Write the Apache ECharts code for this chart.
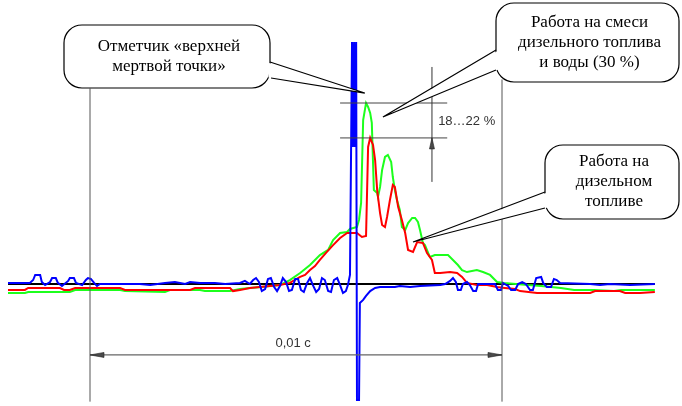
<!DOCTYPE html>
<html>
<head>
<meta charset="utf-8">
<script src="https://cdn.jsdelivr.net/npm/echarts@6/dist/echarts.min.js"></script>
<style>
  html, body { margin: 0; padding: 0; background: #fff; }
  #chart { width: 682px; height: 406px; }
</style>
</head>
<body>
<div id="chart"></div>
<script>
// Time in ms (0 = first reference mark, 10 ms = 0,01 s later);
// signal in % of the peak reached on the diesel/water mixture.

// Work on diesel fuel
const dieselTrace = [
  [-1.99,-3.3],[-1.58,-3.3],[-1.50,-2.2],[-0.73,-2.2],[-0.63,-3.3],[-0.49,-3.3],[-0.36,-2.2],
  [0.73,-2.2],[0.85,-3.3],[1.70,-3.3],[2.43,-3.3],[2.55,-2.2],[3.40,-2.2],[3.47,-3.9],[3.64,-3.3],
  [3.88,-2.2],[4.37,-1.1],[4.61,-0.6],[4.85,0.6],[5.10,3.9],[5.22,5.0],[5.34,7.7],[5.46,9.9],
  [5.58,13.3],[5.75,17.7],[5.90,21.5],[6.07,25.4],[6.24,28.2],[6.48,28.2],[6.60,26.0],[6.70,26.5],
  [6.75,75.7],[6.80,80.7],[6.87,76.8],[6.92,68.5],[6.97,51.9],[7.04,39.2],[7.09,32.6],[7.16,31.5],
  [7.21,37.0],[7.28,46.4],[7.35,54.7],[7.40,53.6],[7.48,42.5],[7.57,35.4],[7.65,28.2],[7.72,18.8],
  [7.84,17.7],[7.94,23.2],[8.08,22.7],[8.18,17.1],[8.30,13.3],[8.37,6.1],[8.50,6.1],[8.74,6.6],
  [8.91,6.1],[9.03,3.9],[9.15,0.6],[9.39,-0.6],[9.64,-0.6],[9.88,-1.7],[10.07,-2.2],[10.32,-2.8],
  [10.44,-3.9],[10.85,-5.0],[12.14,-5.0],[12.26,-3.9],[12.86,-3.9],[12.99,-5.0],[13.35,-5.0],[13.71,-4.4]
];

// Work on diesel fuel + water (30 %)
const mixTrace = [
  [-1.99,-5.0],[-1.58,-5.0],[-1.50,-4.4],[-0.49,-4.4],[-0.36,-3.3],[0.73,-3.3],[0.85,-3.9],
  [1.82,-4.4],[1.94,-3.3],[2.67,-3.3],[2.79,-3.9],[3.40,-3.9],[3.64,-2.8],[3.88,-2.2],[4.17,-1.7],
  [4.37,-1.1],[4.61,-0.6],[4.85,2.2],[5.10,6.1],[5.34,10.5],[5.58,16.0],[5.78,18.8],[5.90,24.3],
  [6.07,28.2],[6.24,28.7],[6.31,30.4],[6.48,31.5],[6.53,35.4],[6.58,44.8],[6.63,90.6],[6.70,100],
  [6.75,97.8],[6.80,94.5],[6.84,89.0],[6.89,51.9],[6.97,50.3],[6.99,48.1],[7.04,53.6],[7.09,63.0],
  [7.16,70.2],[7.23,71.3],[7.31,67.4],[7.35,59.1],[7.40,51.9],[7.45,46.4],[7.52,40.9],[7.57,31.5],
  [7.65,29.8],[7.72,33.7],[7.82,36.5],[7.89,36.5],[7.96,34.3],[8.01,29.8],[8.08,22.7],[8.13,21.5],
  [8.25,14.9],[8.37,16.0],[8.69,16.0],[8.81,13.3],[8.93,10.5],[9.03,7.7],[9.15,6.6],[9.39,7.7],
  [9.54,6.6],[9.71,5.0],[9.88,1.1],[10.05,0.6],[10.63,-0.6],[10.95,-1.1],[11.43,-2.2],[11.75,-3.3],
  [12.23,-3.3],[12.72,-3.9],[12.89,-3.3],[13.71,-3.3]
];

// Top dead centre marker channel
const tdcTrace = [
  [-1.99,0.6],[-1.46,0.6],[-1.38,2.2],[-1.33,5.0],[-1.21,5.0],[-1.17,1.1],[-1.09,-0.6],[-0.97,1.1],
  [-0.92,3.3],[-0.83,3.3],[-0.78,0.6],[-0.68,-1.1],[-0.53,1.7],[-0.49,3.3],[-0.39,3.3],[-0.34,0.6],
  [-0.19,-0.6],[-0.10,2.2],[-0.05,3.3],[0.02,2.8],[0.10,0.6],[0.17,-1.1],[0.24,0],[1.21,0],
  [1.46,-0.6],[1.82,0.6],[2.06,1.1],[2.31,0],[2.43,1.1],[2.67,0.6],[3.03,0.6],[3.28,0],[3.64,0.6],
  [3.76,1.7],[3.88,0],[3.96,2.2],[4.03,3.3],[4.10,1.1],[4.17,-3.9],[4.25,-2.8],[4.32,2.8],[4.39,3.3],
  [4.47,-1.7],[4.54,-3.9],[4.61,-1.1],[4.68,3.3],[4.76,1.1],[4.83,-3.9],[4.90,-3.3],[4.98,2.8],
  [5.05,2.8],[5.12,-3.3],[5.19,-4.4],[5.27,0.6],[5.34,3.3],[5.41,-0.6],[5.49,-4.4],[5.56,-2.8],
  [5.63,3.3],[5.70,2.2],[5.78,-3.9],[5.85,-4.4],[5.92,2.2],[6.00,3.3],[6.07,-0.6],[6.14,-5.0],
  [6.21,-3.9],[6.26,-0.6],[6.31,5.0],[6.36,133.7],[6.38,75.7],[6.41,133.7],[6.43,75.7],[6.46,133.7],
  [6.48,133.7],[6.48,-64.1],[6.53,-64.1],[6.55,-10.5],[6.63,-8.8],[6.70,-6.6],[6.80,-3.9],[6.92,-2.2],
  [7.04,-1.7],[7.16,-1.7],[7.40,-1.7],[7.52,-1.1],[7.77,-1.7],[8.01,-1.1],[8.50,-0.6],[8.62,0],
  [8.74,1.7],[8.81,3.3],[8.88,1.1],[8.93,-3.3],[9.00,-3.3],[9.05,0],[9.15,1.1],[9.22,-0.6],[9.30,-3.9],
  [9.37,-3.9],[9.42,0],[9.83,0],[9.90,-3.3],[9.98,-3.3],[10.02,0.6],[10.15,-1.1],[10.22,-3.3],
  [10.32,-3.3],[10.39,0],[10.49,1.1],[10.58,0],[10.68,-3.3],[10.75,-3.3],[10.83,3.3],[10.95,3.9],
  [11.00,0.6],[11.09,-1.7],[11.19,-1.7],[11.26,2.8],[11.33,2.2],[11.41,0.6],[12.14,0],[12.38,-0.6],
  [12.62,0],[13.11,-0.6],[13.71,0]
];

// Zero line of the record
const baseline = [[-1.99, 0], [13.71, 0]];

// Reference marks 0,01 s apart
const markTimes = [0, 10];
const markTop = [108, 113];
const markBottom = -65;
const spanLevel = -39.2;
const spanLabel = '0,01 с';

// Peak levels: mixture vs diesel
const peakLevels = [100, 80.7];
const peakSpan = [6.07, 8.67];
const dropLabel = '18…22 %';
const dropAxis = 8.30;

// Callout texts and the points they refer to
const calloutTexts = [
  'Отметчик «верхней\nмертвой точки»',
  'Работа на смеси\nдизельного топлива\nи воды (30 %)',
  'Работа на\nдизельном\nтопливе'
];
const calloutTargets = [[6.67, 105.5], [7.11, 92.3], [7.84, 23.2]];

const T_MIN = -90 / 41.2, T_MAX = 592 / 41.2;
const V_MIN = -122 / 1.81, V_MAX = 284 / 1.81;

const chart = echarts.init(document.getElementById('chart'));
const lineSeries = (data, color, width, z) => ({
  type: 'line', data, symbol: 'none', z, silent: true,
  lineStyle: { color, width, join: 'miter' }
});

chart.setOption({
  animation: false,
  grid: { left: 0, right: 0, top: 0, bottom: 0 },
  xAxis: { type: 'value', min: T_MIN, max: T_MAX, show: false },
  yAxis: { type: 'value', min: V_MIN, max: V_MAX, show: false },
  series: [
    lineSeries(baseline, '#000000', 2, 1),
    lineSeries(mixTrace, '#1cff1c', 2, 2),
    lineSeries(dieselTrace, '#ff0000', 2, 3),
    lineSeries(tdcTrace, '#0000ff', 2, 4)
  ]
});

const P = (t, v) => chart.convertToPixel({ gridIndex: 0 }, [t, v]);
const g = [];
const seg = (a, b, color, width, z) => g.push({
  type: 'line', z, silent: true,
  shape: { x1: a[0], y1: a[1], x2: b[0], y2: b[1] },
  style: { stroke: color, lineWidth: width }
});
const arrow = (pts, z) => g.push({
  type: 'polygon', z, silent: true,
  shape: { points: pts }, style: { fill: '#4a4a4a', stroke: '#222', lineWidth: 0.6 }
});

// reference marks and the 0,01 s span between them
markTimes.forEach((t, i) => seg(P(t, markTop[i]), P(t, markBottom), '#555', 1, 5));
const sL = P(markTimes[0], spanLevel), sR = P(markTimes[1], spanLevel);
seg(sL, sR, '#666', 1.2, 5);
arrow([[sL[0], sL[1]], [sL[0] + 14, sL[1] - 2.5], [sL[0] + 14, sL[1] + 2.5]], 6);
arrow([[sR[0], sR[1]], [sR[0] - 14, sR[1] - 2.5], [sR[0] - 14, sR[1] + 2.5]], 6);
const lbl = P(4.93, -33.1);
g.push({ type: 'text', z: 6, silent: true, style: {
  text: spanLabel, x: lbl[0], y: lbl[1], align: 'center', verticalAlign: 'middle',
  font: '13px "Liberation Sans", Arial, sans-serif', fill: '#333' } });

// peak levels and the drop between them
peakLevels.forEach(v => seg(P(peakSpan[0], v), P(peakSpan[1], v), '#444', 1, 6));
seg(P(dropAxis, 119.9), P(dropAxis, 56.4), '#333', 1, 6);
const dTip = P(dropAxis, peakLevels[1]);
arrow([[dTip[0], dTip[1]], [dTip[0] - 2.5, dTip[1] + 11], [dTip[0] + 2.5, dTip[1] + 11]], 6);
const dl = P(8.45, 90);
g.push({ type: 'text', z: 6, silent: true, style: {
  text: dropLabel, x: dl[0], y: dl[1], align: 'left', verticalAlign: 'middle',
  font: '13px "Liberation Sans", Arial, sans-serif', fill: '#333' } });

// speech-bubble callouts
const boxes = [
  { x: 64, y: 25, w: 206, h: 63, a: [270, 62], b: [271, 78], side: -1 },
  { x: 496, y: 3, w: 183, h: 79, a: [496, 50], b: [496, 70], side: 1 },
  { x: 545, y: 145, w: 134, h: 74, a: [545, 192], b: [545, 208], side: 1 }
];
boxes.forEach((bx, i) => {
  const tip = P(calloutTargets[i][0], calloutTargets[i][1]);
  g.push({ type: 'rect', z: 10, silent: true,
    shape: { x: bx.x, y: bx.y, width: bx.w, height: bx.h, r: 18 },
    style: { fill: '#fff', stroke: '#000', lineWidth: 1.2 } });
  g.push({ type: 'polygon', z: 11, silent: true,
    shape: { points: [[bx.a[0] + 2.5 * bx.side, bx.a[1] + 0.6], tip, [bx.b[0] + 2.5 * bx.side, bx.b[1] - 0.6]] },
    style: { fill: '#fff' } });
  g.push({ type: 'polyline', z: 12, silent: true,
    shape: { points: [bx.a, tip, bx.b] },
    style: { stroke: '#000', lineWidth: 1.2, fill: null } });
  g.push({ type: 'text', z: 13, silent: true, style: {
    text: calloutTexts[i], x: bx.x + bx.w / 2 + 2, y: bx.y + bx.h / 2,
    align: 'center', verticalAlign: 'middle', lineHeight: 20,
    font: '17px "Liberation Serif", "Times New Roman", serif', fill: '#000' } });
});

chart.setOption({ graphic: g });
</script>
</body>
</html>
